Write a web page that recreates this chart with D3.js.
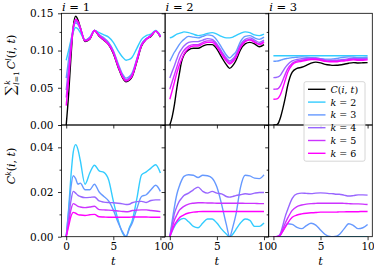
<!DOCTYPE html>
<html>
<head>
<meta charset="utf-8">
<script src="https://cdn.jsdelivr.net/npm/d3@7/dist/d3.min.js"></script>
<style>
  body { margin: 0; background: #fff; }
  text { font-family: 'DejaVu Serif', serif; fill: #000; }
</style>
</head>
<body>
<svg id="chart" width="374" height="268"></svg>
<script>
// time points shared by every curve
const tGrid = [0, 0.25, 0.5, 0.75, 1, 1.25, 1.5, 2, 2.5, 3, 3.5, 4, 4.5, 5, 5.5, 6, 6.35, 6.7, 7, 7.5, 8, 8.5, 9, 9.5, 10]

// top row: sum_{l=1}^k C^l(i,t), order C(i,t), k=2..6
const sumI1 = [
  [0.000, 0.040, 0.090, 0.132, 0.146, 0.141, 0.131, 0.112, 0.115, 0.127, 0.119, 0.114, 0.108, 0.096, 0.078, 0.063, 0.058, 0.060, 0.065, 0.085, 0.106, 0.115, 0.119, 0.126, 0.118],
  [0.087, 0.100, 0.114, 0.125, 0.131, 0.129, 0.124, 0.114, 0.118, 0.127, 0.124, 0.121, 0.118, 0.111, 0.100, 0.091, 0.087, 0.088, 0.091, 0.103, 0.115, 0.120, 0.122, 0.127, 0.120],
  [0.063, 0.088, 0.112, 0.130, 0.137, 0.135, 0.129, 0.114, 0.117, 0.127, 0.121, 0.117, 0.111, 0.100, 0.083, 0.068, 0.063, 0.065, 0.070, 0.089, 0.109, 0.116, 0.120, 0.126, 0.119],
  [0.047, 0.077, 0.107, 0.130, 0.139, 0.137, 0.130, 0.114, 0.117, 0.127, 0.121, 0.116, 0.110, 0.099, 0.081, 0.066, 0.061, 0.063, 0.068, 0.088, 0.108, 0.116, 0.120, 0.126, 0.119],
  [0.037, 0.068, 0.103, 0.130, 0.141, 0.138, 0.130, 0.113, 0.116, 0.127, 0.120, 0.115, 0.109, 0.098, 0.080, 0.065, 0.060, 0.062, 0.067, 0.087, 0.107, 0.115, 0.120, 0.126, 0.119],
  [0.026, 0.060, 0.100, 0.130, 0.142, 0.139, 0.130, 0.113, 0.116, 0.127, 0.120, 0.114, 0.108, 0.097, 0.079, 0.064, 0.059, 0.061, 0.066, 0.086, 0.107, 0.115, 0.120, 0.126, 0.119]
]
const sumI2 = [
  [0.000, 0.011, 0.028, 0.050, 0.068, 0.085, 0.094, 0.101, 0.103, 0.103, 0.106, 0.108, 0.108, 0.102, 0.091, 0.081, 0.076, 0.080, 0.086, 0.101, 0.109, 0.111, 0.109, 0.105, 0.108],
  [0.117, 0.118, 0.120, 0.122, 0.123, 0.124, 0.125, 0.124, 0.122, 0.120, 0.121, 0.123, 0.124, 0.122, 0.119, 0.117, 0.117, 0.118, 0.120, 0.123, 0.125, 0.124, 0.121, 0.120, 0.122],
  [0.0856, 0.092, 0.098, 0.103, 0.108, 0.112, 0.115, 0.119, 0.118, 0.117, 0.119, 0.121, 0.120, 0.114, 0.104, 0.094, 0.090, 0.094, 0.098, 0.112, 0.119, 0.120, 0.117, 0.115, 0.118],
  [0.063, 0.072, 0.080, 0.089, 0.097, 0.102, 0.106, 0.111, 0.112, 0.112, 0.114, 0.116, 0.115, 0.109, 0.099, 0.090, 0.086, 0.089, 0.094, 0.108, 0.115, 0.117, 0.114, 0.111, 0.114],
  [0.048, 0.058, 0.068, 0.078, 0.088, 0.095, 0.100, 0.106, 0.108, 0.108, 0.111, 0.113, 0.113, 0.107, 0.097, 0.088, 0.084, 0.087, 0.092, 0.106, 0.113, 0.115, 0.112, 0.109, 0.112],
  [0.0345, 0.046, 0.058, 0.070, 0.080, 0.088, 0.095, 0.103, 0.106, 0.106, 0.109, 0.111, 0.111, 0.105, 0.095, 0.086, 0.082, 0.085, 0.090, 0.104, 0.112, 0.114, 0.111, 0.108, 0.111]
]
const sumI3 = [
  [0, 0, 0.002, 0.010, 0.022, 0.036, 0.052, 0.071, 0.076, 0.0775, 0.080, 0.083, 0.0845, 0.0835, 0.0815, 0.0805, 0.0801, 0.0802, 0.0805, 0.0815, 0.083, 0.0838, 0.0833, 0.0835, 0.0838],
  [0.093, 0.093, 0.093, 0.093, 0.093, 0.093, 0.093, 0.093, 0.093, 0.093, 0.093, 0.093, 0.093, 0.093, 0.093, 0.093, 0.093, 0.093, 0.093, 0.093, 0.093, 0.093, 0.093, 0.093, 0.093],
  [0.0856, 0.0857, 0.086, 0.087, 0.088, 0.089, 0.0895, 0.0905, 0.091, 0.0915, 0.091, 0.0905, 0.090, 0.089, 0.0885, 0.0885, 0.0888, 0.0893, 0.090, 0.091, 0.0915, 0.091, 0.0905, 0.0905, 0.091],
  [0.0636, 0.0638, 0.0645, 0.067, 0.072, 0.077, 0.081, 0.086, 0.088, 0.089, 0.0895, 0.090, 0.090, 0.089, 0.0875, 0.087, 0.087, 0.087, 0.0875, 0.088, 0.089, 0.0895, 0.089, 0.089, 0.0895],
  [0.048, 0.0482, 0.049, 0.053, 0.060, 0.068, 0.075, 0.083, 0.086, 0.087, 0.088, 0.089, 0.089, 0.088, 0.0865, 0.086, 0.086, 0.086, 0.0865, 0.087, 0.088, 0.0885, 0.088, 0.088, 0.0885],
  [0.0345, 0.0347, 0.036, 0.041, 0.050, 0.060, 0.070, 0.081, 0.0845, 0.0855, 0.087, 0.088, 0.088, 0.087, 0.0855, 0.085, 0.085, 0.085, 0.0855, 0.086, 0.087, 0.0875, 0.087, 0.087, 0.0875]
]

// bottom row: C^k(i,t), order k=2..6
const ckI1 = [
  [0, 0.012, 0.027, 0.038, 0.0412, 0.039, 0.034, 0.0235, 0.0285, 0.032, 0.0295, 0.0288, 0.0255, 0.016, 0.0076, 0.0015, 0.0000, 0.004, 0.007, 0.017, 0.0277, 0.029, 0.0307, 0.0322, 0.0285],
  [0, 0.011, 0.022, 0.0273, 0.026, 0.0235, 0.024, 0.021, 0.021, 0.0235, 0.020, 0.018, 0.016, 0.012, 0.0065, 0.002, 0.0000, 0.0035, 0.006, 0.0125, 0.018, 0.0188, 0.021, 0.023, 0.0203],
  [0, 0.008, 0.016, 0.0203, 0.0195, 0.0185, 0.018, 0.0175, 0.0176, 0.0178, 0.016, 0.0155, 0.0153, 0.0152, 0.015, 0.0147, 0.0144, 0.0145, 0.0152, 0.0157, 0.0158, 0.0153, 0.0162, 0.0165, 0.0165],
  [0, 0.006, 0.012, 0.0148, 0.0143, 0.0136, 0.0133, 0.013, 0.0133, 0.0136, 0.0121, 0.012, 0.0119, 0.0117, 0.0115, 0.0113, 0.0112, 0.0113, 0.0117, 0.0119, 0.012, 0.012, 0.0117, 0.0115, 0.0112],
  [0, 0.0045, 0.009, 0.0109, 0.0105, 0.0099, 0.0097, 0.0095, 0.0098, 0.010, 0.0089, 0.0088, 0.0087, 0.0087, 0.0087, 0.0087, 0.0087, 0.0087, 0.0088, 0.0088, 0.0088, 0.0088, 0.0087, 0.0087, 0.0087]
]
const ckI2 = [
  [0, 0.0025, 0.0046, 0.0062, 0.0073, 0.008, 0.0082, 0.0067, 0.0046, 0.004, 0.0061, 0.0079, 0.0079, 0.0061, 0.0034, 0.0012, 0.0000, 0.0012, 0.0031, 0.0061, 0.0079, 0.0073, 0.0046, 0.0046, 0.0061],
  [0, 0.007, 0.0136, 0.019, 0.0225, 0.0252, 0.027, 0.0277, 0.0275, 0.0265, 0.0275, 0.0273, 0.0262, 0.0222, 0.0145, 0.0055, 0.0000, 0.0045, 0.0095, 0.022, 0.0275, 0.0272, 0.0262, 0.026, 0.0277],
  [0, 0.0055, 0.0106, 0.0135, 0.0158, 0.0172, 0.0184, 0.0195, 0.021, 0.0222, 0.0203, 0.0195, 0.0203, 0.0195, 0.0192, 0.018, 0.0177, 0.018, 0.0184, 0.0188, 0.0192, 0.019, 0.0195, 0.0198, 0.0198],
  [0, 0.004, 0.0076, 0.0098, 0.0118, 0.0128, 0.0136, 0.0146, 0.015, 0.0152, 0.0152, 0.0151, 0.0151, 0.015, 0.015, 0.015, 0.015, 0.015, 0.015, 0.015, 0.0149, 0.0149, 0.0149, 0.0148, 0.0148],
  [0, 0.0028, 0.0054, 0.007, 0.0084, 0.0092, 0.0098, 0.0106, 0.011, 0.0112, 0.0113, 0.0113, 0.0113, 0.0113, 0.0113, 0.0113, 0.0113, 0.0113, 0.0113, 0.0113, 0.0113, 0.0113, 0.0113, 0.0113, 0.0113]
]
const ckI3 = [
  [0, 0, 0, 0, 0, 0, 0, 0, 0, 0, 0, 0, 0, 0, 0, 0, 0, 0, 0, 0, 0, 0, 0, 0, 0],
  [0, 0, 0.0001, 0.0008, 0.0025, 0.0045, 0.0058, 0.0055, 0.0042, 0.0036, 0.005, 0.006, 0.0052, 0.003, 0.001, 0.0001, 0, 0.0002, 0.001, 0.0035, 0.0058, 0.005, 0.0036, 0.004, 0.0055],
  [0, 0, 0.0002, 0.0015, 0.005, 0.009, 0.012, 0.0172, 0.0192, 0.0195, 0.0194, 0.0193, 0.0195, 0.0196, 0.0195, 0.0193, 0.0192, 0.019, 0.019, 0.0186, 0.0182, 0.0184, 0.0187, 0.0187, 0.0186],
  [0, 0, 0.0001, 0.001, 0.0035, 0.006, 0.0082, 0.0118, 0.0135, 0.0142, 0.0146, 0.0148, 0.0149, 0.015, 0.015, 0.015, 0.015, 0.015, 0.015, 0.0149, 0.0148, 0.0147, 0.0147, 0.0146, 0.0144],
  [0, 0, 0.0001, 0.0008, 0.0025, 0.0042, 0.006, 0.0087, 0.0097, 0.0102, 0.0105, 0.0107, 0.0108, 0.011, 0.011, 0.011, 0.011, 0.011, 0.0111, 0.0111, 0.0112, 0.0112, 0.0112, 0.0113, 0.0113]
]

const panelTitles = ['1', '2', '3']
const kLabels = ['2', '3', '4', '5', '6']
const xTicks = [0, 5, 10]
const yTopMajor = [0, 0.05, 0.10, 0.15]
const yTopMinor = [0.025, 0.075, 0.125]
const yBotMajor = [0, 0.02, 0.04]
const yBotMinor = [0.01, 0.03, 0.05]

// colours: black for C(i,t), 'cool' colormap for k=2..6
const cColor = '#000000'
const kColors = ['#33ccff', '#6699ff', '#9966ff', '#cc33ff', '#ff00ff']

let marginLeft = 61.5
let marginTop = 13.3
let panelW = 103.6
let panelH = 111.7

let svg = d3.select('#chart')

let xScale = d3.scaleLinear().domain([-0.5, 10.5]).range([0, panelW])
let yTop = d3.scaleLinear().domain([0, 0.15]).range([panelH, 0])
let yBot = d3.scaleLinear().domain([0, 0.05]).range([panelH, 0])

svg.append('defs').append('clipPath').attr('id', 'clip')
  .append('rect').attr('width', panelW).attr('height', panelH)

function makeLine(y) {
  return d3.line()
    .x((d, i) => xScale(tGrid[i]))
    .y(d => y(d))
    .curve(d3.curveMonotoneX)
}

function drawPanel(row, col, series, colors, y, major, minor) {
  let g = svg.append('g')
    .attr('transform', `translate(${marginLeft + col * panelW}, ${marginTop + row * panelH})`)

  g.append('g').attr('clip-path', 'url(#clip)')
    .selectAll('path')
    .data(series)
    .enter()
    .append('path')
    .attr('d', makeLine(y))
    .attr('fill', 'none')
    .attr('stroke', (d, i) => colors[i])
    .attr('stroke-width', 1.4)

  // y ticks (outward), labels only on first column
  let yAx = g.append('g').call(
    d3.axisLeft(y).tickValues(major).tickSize(3.5).tickPadding(4.5)
      .tickFormat(col === 0 ? d3.format('.2f') : '')
  )
  let yMin = g.append('g').call(d3.axisLeft(y).tickValues(minor).tickSize(2).tickFormat(''))

  let xAx = g.append('g').attr('transform', `translate(0, ${panelH})`).call(
    d3.axisBottom(xScale).tickValues(xTicks).tickSize(3.5).tickPadding(2.5)
      .tickFormat(row === 1 ? d3.format('d') : '')
  )

  ;[yAx, yMin, xAx].forEach(a => {
    a.select('.domain').remove()
    a.selectAll('line').attr('stroke', '#000').attr('stroke-width', 0.8)
    a.selectAll('text').attr('font-size', 10.5).attr('font-family', "'DejaVu Serif', serif")
  })

  g.append('rect')
    .attr('width', panelW).attr('height', panelH)
    .attr('fill', 'none').attr('stroke', '#000').attr('stroke-width', 0.8)

  return g
}

let topSets = [sumI1, sumI2, sumI3]
let botSets = [ckI1, ckI2, ckI3]

topSets.forEach((s, c) => {
  drawPanel(0, c, s, [cColor].concat(kColors), yTop, yTopMajor, yTopMinor)
})
botSets.forEach((s, c) => {
  drawPanel(1, c, s, kColors, yBot, yBotMajor, yBotMinor)
})

// titles i = 1, 2, 3
panelTitles.forEach((p, c) => {
  let t = svg.append('text')
    .attr('x', marginLeft + c * panelW + 0.5)
    .attr('y', 10.5)
    .attr('font-size', 11.5)
  t.append('tspan').attr('font-style', 'italic').text('i')
  t.append('tspan').text(' = ' + p)
})

// x labels
botSets.forEach((s, c) => {
  svg.append('text')
    .attr('x', marginLeft + c * panelW + xScale(5))
    .attr('y', 265)
    .attr('text-anchor', 'middle')
    .attr('font-size', 11.5)
    .attr('font-style', 'italic')
    .text('t')
})

// y label, top row
let yl1 = svg.append('text')
  .attr('transform', 'translate(15, 65) rotate(-90)')
  .attr('text-anchor', 'middle')
  .attr('font-size', 11)
yl1.append('tspan').attr('font-size', 14).text('∑')
yl1.append('tspan').attr('font-size', 7.5).attr('font-style', 'italic').attr('dy', -5).attr('dx', 0.5).text('k')
yl1.append('tspan').attr('font-size', 7.5).attr('font-style', 'italic').attr('dy', 9).attr('dx', -4.5).text('l')
yl1.append('tspan').attr('font-size', 7.5).text('=1')
yl1.append('tspan').attr('font-style', 'italic').attr('dy', -4).attr('dx', 2).text('C')
yl1.append('tspan').attr('font-size', 7.5).attr('font-style', 'italic').attr('dy', -4.5).text('l')
yl1.append('tspan').attr('dy', 4.5).text('(')
yl1.append('tspan').attr('font-style', 'italic').text('i')
yl1.append('tspan').text(', ')
yl1.append('tspan').attr('font-style', 'italic').text('t')
yl1.append('tspan').text(')')

// y label, bottom row
let yl2 = svg.append('text')
  .attr('transform', 'translate(15, 166) rotate(-90)')
  .attr('text-anchor', 'middle')
  .attr('font-size', 11)
yl2.append('tspan').attr('font-style', 'italic').text('C')
yl2.append('tspan').attr('font-size', 7.5).attr('font-style', 'italic').attr('dy', -4.5).text('k')
yl2.append('tspan').attr('dy', 4.5).text('(')
yl2.append('tspan').attr('font-style', 'italic').text('i')
yl2.append('tspan').text(', ')
yl2.append('tspan').attr('font-style', 'italic').text('t')
yl2.append('tspan').text(')')

// legend
let lg = svg.append('g').attr('transform', 'translate(304, 81.7)')
lg.append('rect')
  .attr('width', 61).attr('height', 79.5).attr('rx', 2)
  .attr('fill', '#fff').attr('fill-opacity', 0.8)
  .attr('stroke', '#cccccc').attr('stroke-width', 0.8)

let legendColors = [cColor].concat(kColors)
let rows = lg.selectAll('.legend-row')
  .data(legendColors)
  .enter()
  .append('g')
  .attr('class', 'legend-row')
  .attr('transform', (d, i) => `translate(0, ${7.6 + i * 12.8})`)

rows.append('line')
  .attr('x1', 4).attr('x2', 21.5)
  .attr('stroke', d => d).attr('stroke-width', 1.4)

rows.each(function(d, i) {
  let t = d3.select(this).append('text')
    .attr('x', 26.5).attr('y', 3.5)
    .attr('font-size', 9.5)
  if (i === 0) {
    t.append('tspan').attr('font-style', 'italic').text('C')
    t.append('tspan').text('(')
    t.append('tspan').attr('font-style', 'italic').text('i')
    t.append('tspan').text(', ')
    t.append('tspan').attr('font-style', 'italic').text('t')
    t.append('tspan').text(')')
  } else {
    t.append('tspan').attr('font-style', 'italic').text('k')
    t.append('tspan').text(' = ' + kLabels[i - 1])
  }
})
</script>
</body>
</html>
